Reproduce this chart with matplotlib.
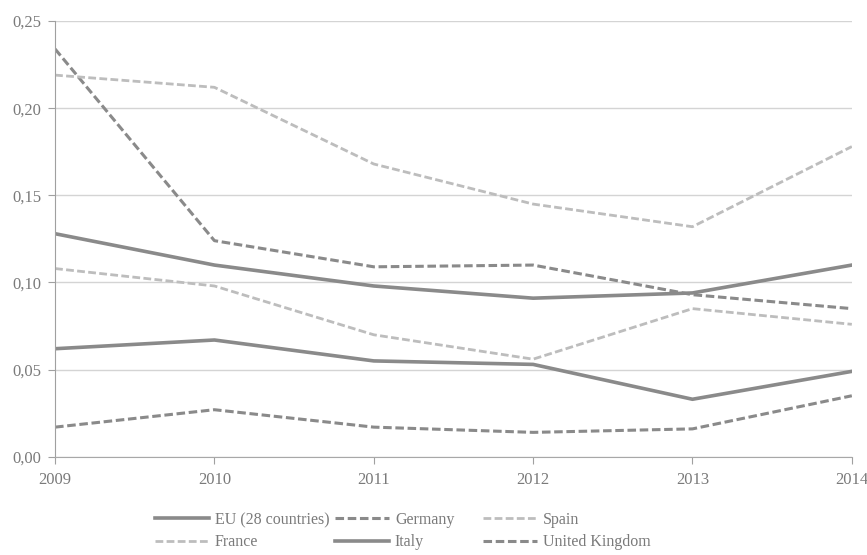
import matplotlib
matplotlib.use("Agg")
import matplotlib.pyplot as plt
from matplotlib.ticker import FuncFormatter

years = [2009, 2010, 2011, 2012, 2013, 2014]
eu = [0.128, 0.110, 0.098, 0.091, 0.094, 0.110]
germany = [0.234, 0.124, 0.109, 0.110, 0.093, 0.085]
spain = [0.219, 0.212, 0.168, 0.145, 0.132, 0.178]
france = [0.108, 0.098, 0.070, 0.056, 0.085, 0.076]
italy = [0.062, 0.067, 0.055, 0.053, 0.033, 0.049]
uk = [0.017, 0.027, 0.017, 0.014, 0.016, 0.035]
yticks = [0.00, 0.05, 0.10, 0.15, 0.20, 0.25]

plt.rcParams['font.family'] = ['Liberation Serif', 'DejaVu Serif']

dark = '#8a8a8a'
light = '#bdbdbd'
txt = '#7a7a7a'

W, H = 867, 555
fig = plt.figure(figsize=(W / 100, H / 100), dpi=100)
ax = fig.add_axes([0.0635, 0.177, 0.919, 0.785])

dash = (0, (2.8, 1.2))
h_eu, = ax.plot(years, eu, color=dark, lw=2.6, ls='-', label='EU (28 countries)')
h_fr, = ax.plot(years, france, color=light, lw=2.0, ls=dash, label='France')
h_de, = ax.plot(years, germany, color=dark, lw=2.2, ls=dash, label='Germany')
h_it, = ax.plot(years, italy, color=dark, lw=2.6, ls='-', label='Italy')
h_es, = ax.plot(years, spain, color=light, lw=2.0, ls=dash, label='Spain')
h_uk, = ax.plot(years, uk, color=dark, lw=2.2, ls=dash, label='United Kingdom')

ax.set_xlim(2009, 2014)
ax.set_ylim(0, 0.25)
ax.set_yticks(yticks)
ax.yaxis.set_major_formatter(FuncFormatter(lambda v, p: f"{v:.2f}".replace('.', ',')))
ax.set_xticks(years)
ax.grid(axis='y', color='#d4d4d4', lw=1.0)
ax.set_axisbelow(True)
for s in ['top', 'right']:
    ax.spines[s].set_visible(False)
ax.spines['left'].set_color('#a0a0a0')
ax.spines['bottom'].set_color('#a8a8a8')
ax.tick_params(axis='y', length=5, color='#a0a0a0', labelsize=12, labelcolor=txt, pad=5)
ax.tick_params(axis='x', length=5, color='#a0a0a0', labelsize=12, labelcolor=txt, pad=6)

cols = [([h_eu, h_fr], 155), ([h_de, h_it], 335), ([h_es, h_uk], 483)]
for handles, xpix in cols:
    leg = fig.legend(handles=handles, loc='upper left',
                     bbox_to_anchor=(xpix / W, 1 - 512 / H),
                     frameon=False, fontsize=11.5, handlelength=3.4,
                     handletextpad=0.35, labelspacing=0.4,
                     borderpad=0, borderaxespad=0)
    for t in leg.get_texts():
        t.set_color(txt)

fig.savefig('out.png', dpi=100)
